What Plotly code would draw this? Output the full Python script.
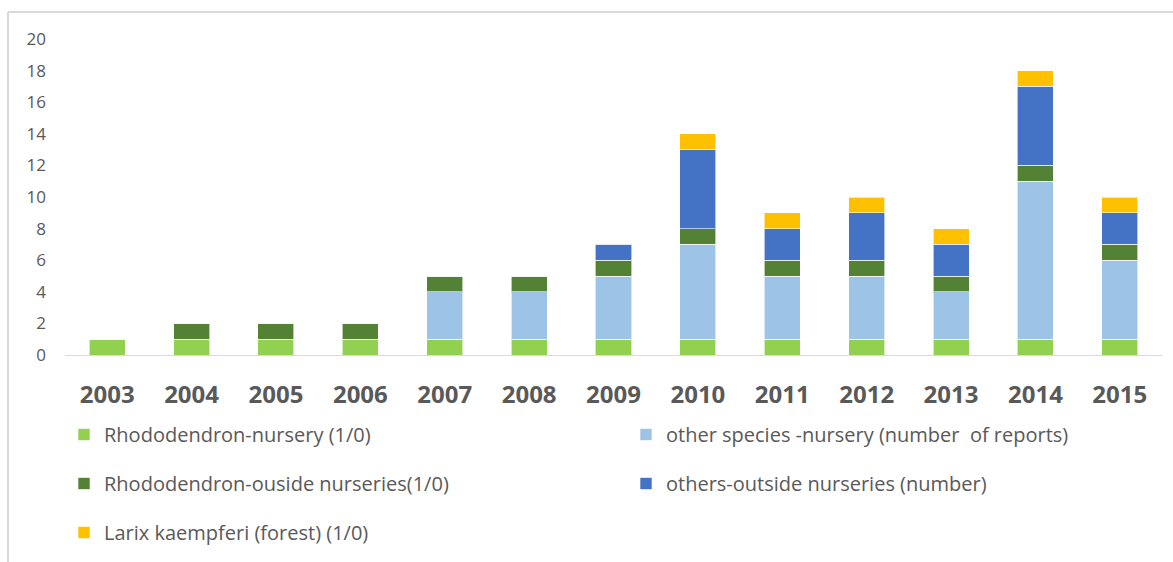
import plotly.graph_objects as go

years = ["2003", "2004", "2005", "2006", "2007", "2008", "2009",
         "2010", "2011", "2012", "2013", "2014", "2015"]
rhodo_nursery = [1, 1, 1, 1, 1, 1, 1, 1, 1, 1, 1, 1, 1]
other_nursery = [0, 0, 0, 0, 3, 3, 4, 6, 4, 4, 3, 10, 5]
rhodo_outside = [0, 1, 1, 1, 1, 1, 1, 1, 1, 1, 1, 1, 1]
others_outside = [0, 0, 0, 0, 0, 0, 1, 5, 2, 3, 2, 5, 2]
larix = [0, 0, 0, 0, 0, 0, 0, 1, 1, 1, 1, 1, 1]

series = [
    ("Rhododendron-nursery (1/0)", rhodo_nursery, "#92D050", "legend"),
    ("other species -nursery (number  of reports)", other_nursery, "#9DC3E6", "legend2"),
    ("Rhododendron-ouside nurseries(1/0)", rhodo_outside, "#548235", "legend"),
    ("others-outside nurseries (number)", others_outside, "#4472C4", "legend2"),
    ("Larix kaempferi (forest) (1/0)", larix, "#FFC000", "legend"),
]

fig = go.Figure()
for i, (name, vals, color, lg) in enumerate(series):
    fig.add_trace(go.Bar(
        x=years, y=vals, name=name, marker_color=color,
        marker_line=dict(color="rgba(255,255,255,0.6)", width=1),
        legend=lg, legendgroup=f"g{i}",
    ))

W, H = 1173, 562
L, R, T, B = 65, 11, 39, 207
pw = W - L - R
ph = H - T - B

def px_x(px):
    return (px - L) / pw

def px_y(py):
    return (H - B - py) / ph

font_fam = "Open Sans, Liberation Sans, sans-serif"
leg_common = dict(xanchor="left", yanchor="top", orientation="v",
                  xref="container", yref="container",
                  tracegroupgap=20, font=dict(size=20, color="#595959"),
                  itemwidth=30, bgcolor="rgba(0,0,0,0)")
fig.update_layout(
    width=W, height=H,
    margin=dict(l=L, r=R, t=T, b=B, autoexpand=False),
    barmode="stack", bargap=0.573,
    plot_bgcolor="white", paper_bgcolor="white",
    font=dict(family=font_fam, color="#595959"),
    xaxis=dict(showgrid=False, showline=True, linecolor="#D9D9D9", linewidth=1,
               tickfont=dict(size=24, color="#595959", family=font_fam, weight="bold"),
               ticks="", ticklabelstandoff=18, automargin=False),
    yaxis=dict(range=[0, 20], dtick=2, showgrid=False, zeroline=False,
               tickfont=dict(size=17, color="#595959"), ticklabelstandoff=18,
               automargin=False),
    legend=dict(x=64 / W, y=1 - 415 / H, **leg_common),
    legend2=dict(x=626 / W, y=1 - 415 / H, **leg_common),
    shapes=[
        dict(type="line", xref="paper", yref="paper", x0=px_x(8), x1=px_x(8),
             y0=px_y(12), y1=px_y(600), line=dict(color="#D9D9D9", width=2)),
        dict(type="line", xref="paper", yref="paper", x0=px_x(8), x1=px_x(1200),
             y0=px_y(12), y1=px_y(12), line=dict(color="#D9D9D9", width=2)),
    ],
)

fig.write_html("out.html", config={"displayModeBar": False},
               post_script="document.body.style.margin='0';")
